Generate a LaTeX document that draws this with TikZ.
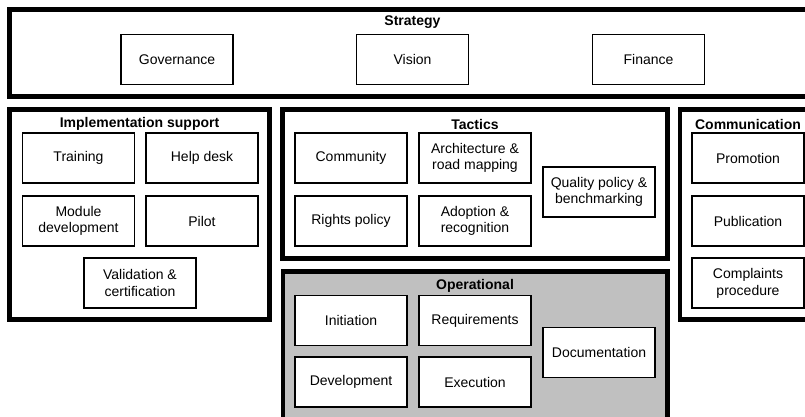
\documentclass[tikz,border=0pt]{standalone}
\usepackage{fontspec}
\setmainfont{Liberation Sans}
\definecolor{opgray}{HTML}{C0C0C0}
\tikzset{
  frame/.style={draw=black, line width=4.5pt, line join=miter},
  item/.style={draw=black, line width=1.7pt, fill=white, minimum width=112pt, minimum height=50pt,
    inner sep=0pt, align=center, font=\fontsize{14}{16.5}\selectfont},
  title/.style={font=\fontsize{14}{16.5}\selectfont\bfseries, inner sep=0pt}
}
\begin{document}
\begin{tikzpicture}[x=1pt,y=-1pt]
\useasboundingbox (0,0) rectangle (805,416);
\clip (0,0) rectangle (805,416);
% Strategy
\draw[frame] (9.5,9.5) rectangle (816,96.5);
\node[title] (strategy) at (412.5,22) {Strategy};
\node[item] (gov) at (177,59.5) {Governance};
\node[item] (vision) at (412.5,59.5) {Vision};
\node[item] (finance) at (648.5,59.5) {Finance};
% Implementation support
\draw[frame] (9.5,109.5) rectangle (269.5,319.5);
\node[title] (impl) at (139.5,124) {Implementation support};
\node[item] (training) at (78.5,158) {Training};
\node[item] (helpdesk) at (202,158) {Help desk};
\node[item] (module) at (78.5,221) {Module\\development};
\node[item] (pilot) at (202,221) {Pilot};
\node[item] (valid) at (140,283) {Validation \&\\certification};
% Tactics
\draw[frame] (282.5,109.5) rectangle (667.5,258.5);
\node[title] (tactics) at (475,124) {Tactics};
\node[item] (community) at (351,158) {Community};
\node[item] (arch) at (475,158) {Architecture \&\\road mapping};
\node[item] (rights) at (351,221) {Rights policy};
\node[item] (adoption) at (475,221) {Adoption \&\\recognition};
\node[item] (quality) at (599,191.7) {Quality policy \&\\benchmarking};
% Operational
\draw[frame, fill=opgray] (283,271.5) rectangle (667.5,421);
\node[title] (oper) at (475,286) {Operational};
\node[item] (init) at (351,320.5) {Initiation};
\node[item] (req) at (475,320.5) {Requirements};
\node[item] (devel) at (351,382) {Development};
\node[item] (exec) at (475,382) {Execution};
\node[item] (doc) at (599,352.5) {Documentation};
% Communication
\draw[frame] (680,109.5) rectangle (816,319.5);
\node[title] (comm) at (748,124) {Communication};
\node[item] (promo) at (748,158) {Promotion};
\node[item] (publ) at (748,221) {Publication};
\node[item] (compl) at (748,283.3) {Complaints\\procedure};
\end{tikzpicture}
\end{document}
